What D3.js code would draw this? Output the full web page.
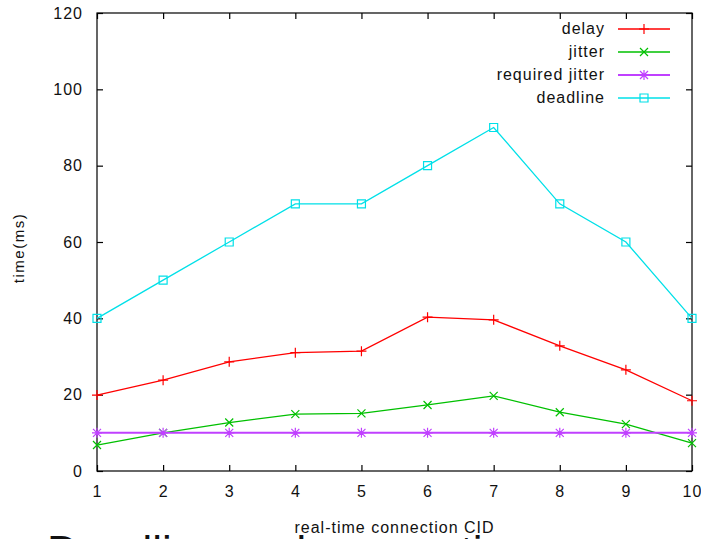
<!DOCTYPE html>
<html>
<head>
<meta charset="utf-8">
<script src="https://cdn.jsdelivr.net/npm/d3@7"></script>
<style>
  body { margin: 0; background: #fff; }
  text { font-family: "Liberation Sans", Arial, sans-serif; fill: #111; }
</style>
</head>
<body>
<div id="chart"></div>
<script>
// chart data
var cids = [1, 2, 3, 4, 5, 6, 7, 8, 9, 10];
var delay = [19.9, 23.8, 28.6, 31.0, 31.4, 40.3, 39.6, 32.8, 26.5, 18.4];
var jitter = [6.8, 10.0, 12.7, 14.9, 15.1, 17.3, 19.7, 15.4, 12.3, 7.3];
var requiredJitter = [10, 10, 10, 10, 10, 10, 10, 10, 10, 10];
var deadline = [40, 50, 60, 70, 70, 80, 90, 70, 60, 40];
var yTicks = [0, 20, 40, 60, 80, 100, 120];
var seriesNames = ["delay", "jitter", "required jitter", "deadline"];

var svg = d3.select('#chart').append('svg')
    .attr('width', 701)
    .attr('height', 539);

// plot box (window.top is reserved, so use plot* names)
var plotLeft = 97, plotRight = 692, plotTop = 13, plotBottom = 471;

var x = d3.scaleLinear().domain([1, 10]).range([plotLeft, plotRight]);
var y = d3.scaleLinear().domain([0, 120]).range([plotBottom, plotTop]);

// frame
svg.append('rect')
    .attr('x', plotLeft).attr('y', plotTop)
    .attr('width', plotRight - plotLeft).attr('height', plotBottom - plotTop)
    .attr('fill', 'none').attr('stroke', '#000').attr('stroke-width', 1.2);

// axes with inward ticks, mirrored on top/right
svg.append('g').attr('transform', 'translate(0,' + plotBottom + ')')
    .call(d3.axisBottom(x).tickValues(cids).tickSize(-6).tickPadding(15).tickFormat(d3.format('d')))
    .call(function(g) { g.select('.domain').remove(); });
svg.append('g').attr('transform', 'translate(0,' + plotTop + ')')
    .call(d3.axisTop(x).tickValues(cids).tickSize(-6).tickFormat(''))
    .call(function(g) { g.select('.domain').remove(); });
svg.append('g').attr('transform', 'translate(' + plotLeft + ',0)')
    .call(d3.axisLeft(y).tickValues(yTicks).tickSize(-6).tickPadding(14))
    .call(function(g) { g.select('.domain').remove(); });
svg.append('g').attr('transform', 'translate(' + plotRight + ',0)')
    .call(d3.axisRight(y).tickValues(yTicks).tickSize(-6).tickFormat(''))
    .call(function(g) { g.select('.domain').remove(); });

svg.selectAll('.tick line').attr('stroke', '#000').attr('stroke-width', 1.2);
svg.selectAll('.tick text')
    .attr('font-size', 16)
    .attr('letter-spacing', 1)
    .attr('fill', '#111')
    .style('font-family', '"Liberation Sans", Arial, sans-serif');

// axis titles
svg.append('text')
    .attr('transform', 'translate(24,248) rotate(-90)')
    .attr('text-anchor', 'middle')
    .attr('font-size', 15)
    .attr('letter-spacing', 1.5)
    .text('time(ms)');
svg.append('text')
    .attr('x', (plotLeft + plotRight) / 2).attr('y', 533)
    .attr('text-anchor', 'middle')
    .attr('font-size', 16)
    .attr('letter-spacing', 1)
    .text('real-time connection CID');

// large caption cut off at the bottom of the picture
svg.append('text')
    .attr('x', 47).attr('y', 567)
    .attr('font-size', 44)
    .attr('fill', '#000')
    .text('Deadline and connections');

// marker shapes
function markPlus(cx, cy) { var s = 5; return 'M' + (cx - s) + ',' + cy + 'H' + (cx + s) + 'M' + cx + ',' + (cy - s) + 'V' + (cy + s); }
function markCross(cx, cy) { var s = 4; return 'M' + (cx - s) + ',' + (cy - s) + 'L' + (cx + s) + ',' + (cy + s) + 'M' + (cx - s) + ',' + (cy + s) + 'L' + (cx + s) + ',' + (cy - s); }
function markStar(cx, cy) { return markPlus(cx, cy) + markCross(cx, cy); }
function markSquare(cx, cy) { var s = 4; return 'M' + (cx - s) + ',' + (cy - s) + 'h' + (2 * s) + 'v' + (2 * s) + 'h' + (-2 * s) + 'Z'; }

var series = [
  { name: seriesNames[0], values: delay, color: '#ff0000', width: 1.3, mark: markPlus },
  { name: seriesNames[1], values: jitter, color: '#00c000', width: 1.3, mark: markCross },
  { name: seriesNames[2], values: requiredJitter, color: '#c040ff', width: 2, mark: markStar },
  { name: seriesNames[3], values: deadline, color: '#00e0e8', width: 1.3, mark: markSquare }
];

var line = d3.line()
    .x(function(d, i) { return x(cids[i]); })
    .y(function(d) { return y(d); });

series.forEach(function(s) {
  svg.append('path')
      .attr('d', line(s.values))
      .attr('fill', 'none')
      .attr('stroke', s.color)
      .attr('stroke-width', s.width);
  svg.append('path')
      .attr('d', s.values.map(function(v, i) { return s.mark(x(cids[i]), y(v)); }).join(''))
      .attr('fill', 'none')
      .attr('stroke', s.color)
      .attr('stroke-width', 1.2);
});

// legend
var legend = svg.append('g');
series.forEach(function(s, i) {
  var ly = 29 + i * 23;
  legend.append('text')
      .attr('x', 605).attr('y', ly + 5)
      .attr('text-anchor', 'end')
      .attr('font-size', 16)
      .attr('letter-spacing', 1)
      .text(s.name);
  legend.append('line')
      .attr('x1', 618).attr('x2', 670)
      .attr('y1', ly).attr('y2', ly)
      .attr('stroke', s.color).attr('stroke-width', s.width);
  legend.append('path')
      .attr('d', s.mark(644, ly))
      .attr('fill', 'none').attr('stroke', s.color).attr('stroke-width', 1.2);
});
</script>
</body>
</html>
